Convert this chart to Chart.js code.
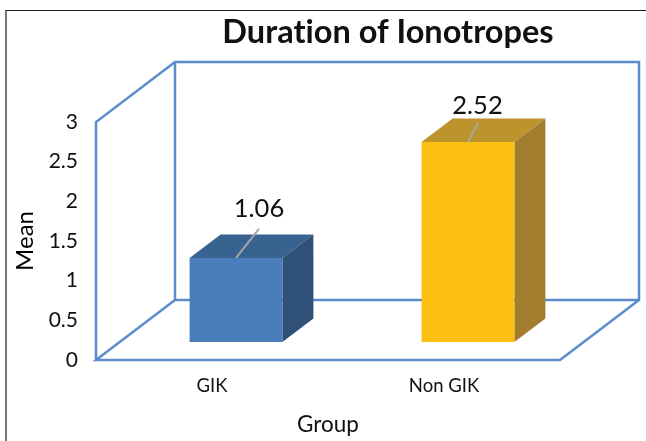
<!DOCTYPE html>
<html lang="en">
<head>
<meta charset="UTF-8">
<title>Duration of Ionotropes</title>
<script src="https://cdn.jsdelivr.net/npm/chart.js"></script>
<style>
    html, body { margin: 0; padding: 0; background: #fff; }
    #wrap { position: relative; width: 646px; height: 441px; overflow: hidden; }
    /* frame of the pasted picture */
    #frame { position: absolute; left: 5px; top: 10px; width: 660px; height: 460px; border-top: 1px solid #1a1a1a; border-left: 2px solid #777; }
</style>
</head>
<body>
<div id="wrap">
    <div id="frame"></div>
    <canvas id="chart" width="646" height="441"></canvas>
</div>
<script>
    const chartTitle = 'Duration of Ionotropes';
    const categories = ['GIK', 'Non GIK'];
    const means = [1.06, 2.52];
    const yTicks = [0, 0.5, 1, 1.5, 2, 2.5, 3];

    const frontColors = ['#4a7ebb', '#fcc010'];
    const topColors = ['#386290', '#bd932b'];
    const sideColors = ['#2f5077', '#a27d2e'];

    const wallColor = '#5b8ccc';
    const FONT = 'Lato, "Open Sans", sans-serif';

    // box offset of the 3D room and of the bars inside it
    const room = { dx: 79, dy: -60 };
    const barShift = { dx: 24, dy: -18 };
    const barDepth = { dx: 31, dy: -23.5 };
    // where the data labels sit relative to the top centre of the front face
    const labelOffsets = [{ x: 23, y: -49, lineX: 23, lineY: -29 }, { x: 9.5, y: -36, lineX: 10, lineY: -19 }];

    function poly(ctx, pts, fill) {
        ctx.beginPath();
        pts.forEach((p, i) => i ? ctx.lineTo(p[0], p[1]) : ctx.moveTo(p[0], p[1]));
        ctx.closePath();
        ctx.fillStyle = fill;
        ctx.fill();
    }

    const fake3d = {
        id: 'fake3d',
        beforeDatasetsDraw(chart) {
            const { ctx, chartArea: a } = chart;
            const l = a.left, r = a.right, t = a.top, b = a.bottom;

            // walls and floor
            ctx.save();
            ctx.strokeStyle = wallColor;
            ctx.lineWidth = 2.5;
            ctx.beginPath();
            ctx.moveTo(l, b); ctx.lineTo(l, t); ctx.lineTo(l + room.dx, t + room.dy);
            ctx.lineTo(r + room.dx, t + room.dy); ctx.lineTo(r + room.dx, b + room.dy);
            ctx.lineTo(l + room.dx, b + room.dy); ctx.lineTo(l + room.dx, t + room.dy);
            ctx.moveTo(l + room.dx, b + room.dy); ctx.lineTo(l, b);
            ctx.lineTo(r, b); ctx.lineTo(r + room.dx, b + room.dy);
            ctx.stroke();

            // top and side faces of the bars
            chart.getDatasetMeta(0).data.forEach((bar, i) => {
                const x0 = bar.x - bar.width / 2 + barShift.dx;
                const x1 = bar.x + bar.width / 2 + barShift.dx;
                const y0 = bar.y + barShift.dy;
                const y1 = bar.base + barShift.dy;
                poly(ctx, [[x0, y0], [x1, y0], [x1 + barDepth.dx, y0 + barDepth.dy], [x0 + barDepth.dx, y0 + barDepth.dy]], topColors[i]);
                poly(ctx, [[x1, y0], [x1 + barDepth.dx, y0 + barDepth.dy], [x1 + barDepth.dx, y1 + barDepth.dy], [x1, y1]], sideColors[i]);
            });
            ctx.restore();

            // the front faces are the real bars, moved into the room
            ctx.save();
            ctx.translate(barShift.dx, barShift.dy);
        },
        afterDatasetsDraw(chart) {
            const { ctx } = chart;
            ctx.restore();

            ctx.save();
            ctx.letterSpacing = '0.01px'; // stops the "ti" ligature in Lato
            chart.getDatasetMeta(0).data.forEach((bar, i) => {
                const cx = bar.x + barShift.dx;
                const cy = bar.y + barShift.dy;
                const off = labelOffsets[i];
                ctx.strokeStyle = '#a6a6a6';
                ctx.lineWidth = 2;
                ctx.beginPath();
                ctx.moveTo(cx, cy);
                ctx.lineTo(cx + off.lineX, cy + off.lineY);
                ctx.stroke();

                ctx.fillStyle = '#111';
                ctx.font = '25.5px ' + FONT;
                ctx.textAlign = 'center';
                ctx.textBaseline = 'middle';
                ctx.fillText(means[i].toFixed(2), cx + off.x, cy + off.y);
            });

            ctx.fillStyle = '#111';
            ctx.font = 'bold 32.5px ' + FONT;
            ctx.textAlign = 'center';
            ctx.textBaseline = 'middle';
            ctx.fillText(chartTitle, 388, 33);
            ctx.restore();
        }
    };

    new Chart(document.getElementById('chart'), {
        type: 'bar',
        data: {
            labels: categories,
            datasets: [{
                data: means,
                backgroundColor: frontColors,
                borderWidth: 0,
                barPercentage: 0.4,
                categoryPercentage: 1
            }]
        },
        options: {
            responsive: false,
            animation: false,
            layout: { padding: { top: 122, right: 86, left: 0, bottom: 0 } },
            plugins: { legend: { display: false }, tooltip: { enabled: false } },
            scales: {
                x: {
                    grid: { display: false, drawTicks: false },
                    border: { display: false },
                    ticks: { color: '#111', font: { family: FONT, size: 18.5 }, padding: 15, maxRotation: 0 },
                    title: { display: true, text: 'Group', color: '#111', font: { family: FONT, size: 22.5 }, padding: { top: 12, bottom: 3 } },
                    afterFit(scale) { scale.height = 81; }
                },
                y: {
                    min: 0,
                    max: 3,
                    afterBuildTicks(scale) { scale.ticks = yTicks.map(v => ({ value: v })); },
                    grid: { display: false, drawTicks: false },
                    border: { display: false },
                    ticks: { color: '#111', font: { family: FONT, size: 21 }, padding: 18, callback: v => String(v) },
                    title: { display: true, text: 'Mean', color: '#000', font: { family: FONT, size: 24 }, padding: { top: 11, bottom: 0 } },
                    afterFit(scale) { scale.width = 96; }
                }
            }
        },
        plugins: [fake3d]
    });
</script>
</body>
</html>
